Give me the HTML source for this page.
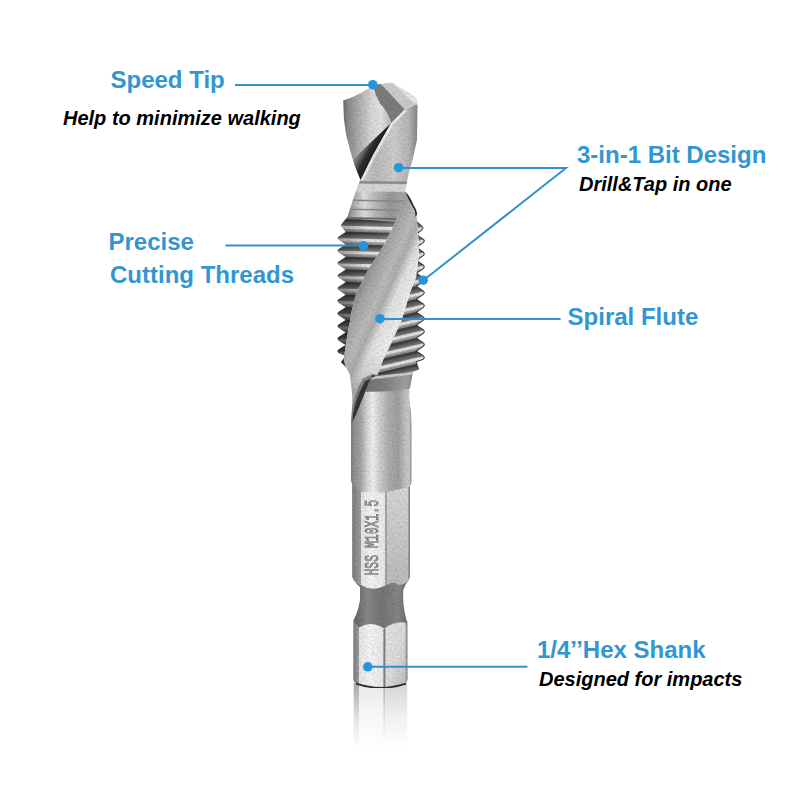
<!DOCTYPE html>
<html lang="en">
<head>
<meta charset="utf-8">
<title>3-in-1 Drill Tap Bit</title>
<style>
html,body{margin:0;padding:0;background:#fff;}
body{width:800px;height:800px;position:relative;overflow:hidden;font-family:"Liberation Sans",Arial,sans-serif;}
</style>
</head>
<body>
<svg width="800" height="800" viewBox="0 0 800 800" style="position:absolute;left:0;top:0">
<defs>
 <linearGradient id="gShank" x1="0" x2="1" y1="0" y2="0">
  <stop offset="0" stop-color="#7c7c7c"/>
  <stop offset="0.05" stop-color="#939393"/>
  <stop offset="0.16" stop-color="#a6a6a6"/>
  <stop offset="0.27" stop-color="#dadada"/>
  <stop offset="0.36" stop-color="#f4f4f4"/>
  <stop offset="0.47" stop-color="#d4d4d4"/>
  <stop offset="0.62" stop-color="#b0b0b0"/>
  <stop offset="0.78" stop-color="#a2a2a2"/>
  <stop offset="0.90" stop-color="#c4c4c4"/>
  <stop offset="0.96" stop-color="#cdcdcd"/>
  <stop offset="1" stop-color="#909090"/>
 </linearGradient>
 <linearGradient id="gGroove" x1="0" x2="1" y1="0" y2="0">
  <stop offset="0" stop-color="#626262"/>
  <stop offset="0.25" stop-color="#8a8a8a"/>
  <stop offset="0.5" stop-color="#767676"/>
  <stop offset="0.8" stop-color="#888888"/>
  <stop offset="1" stop-color="#666666"/>
 </linearGradient>
 <linearGradient id="gBand" x1="0" x2="1" y1="0" y2="0">
  <stop offset="0" stop-color="#707070"/><stop offset="0.5" stop-color="#868686"/><stop offset="0.85" stop-color="#a4a4a4"/><stop offset="1" stop-color="#8a8a8a"/>
 </linearGradient>
 <linearGradient id="gBladeSh" gradientUnits="userSpaceOnUse" x1="376" y1="151" x2="361" y2="143">
  <stop offset="0" stop-color="#1c1c1c" stop-opacity="1"/>
  <stop offset="0.4" stop-color="#2a2a2a" stop-opacity="0.96"/>
  <stop offset="0.8" stop-color="#555" stop-opacity="0.5"/>
  <stop offset="1" stop-color="#777" stop-opacity="0"/>
 </linearGradient>
 <clipPath id="cBlade"><path d="M343.2,100.5 Q357,96 369.5,87.7 L372.8,85 Q375,95 380,103.5 Q388,112 391.2,123 L386,132 L372.5,156 L360.5,180 L354.5,165 L350,150 L346.2,135 L344,120 Z"/></clipPath>
 <linearGradient id="gTail" gradientUnits="userSpaceOnUse" x1="0" y1="352" x2="0" y2="420">
  <stop offset="0" stop-color="#a0a0a0" stop-opacity="0"/><stop offset="0.35" stop-color="#a0a0a0" stop-opacity="0.3"/><stop offset="0.6" stop-color="#989898" stop-opacity="0.8"/><stop offset="1" stop-color="#8c8c8c" stop-opacity="0.95"/>
 </linearGradient>
 <linearGradient id="gThreadShadeV" gradientUnits="userSpaceOnUse" x1="0" y1="270" x2="0" y2="360">
  <stop offset="0" stop-color="#222" stop-opacity="0"/><stop offset="0.5" stop-color="#222" stop-opacity="0.45"/><stop offset="1" stop-color="#222" stop-opacity="0.7"/>
 </linearGradient>
 <linearGradient id="gFaceL" x1="0" x2="1" y1="0" y2="0">
  <stop offset="0" stop-color="#7e7e7e"/><stop offset="1" stop-color="#a2a2a2"/>
 </linearGradient>
 <linearGradient id="gFaceM" x1="0" x2="1" y1="0" y2="0">
  <stop offset="0" stop-color="#e8e8e8"/><stop offset="0.4" stop-color="#f8f8f8"/><stop offset="1" stop-color="#ececec"/>
 </linearGradient>
 <linearGradient id="gFaceR" x1="0" x2="0" y1="0" y2="1">
  <stop offset="0" stop-color="#dadada"/><stop offset="1" stop-color="#bebebe"/>
 </linearGradient>
 <linearGradient id="gFaceR2" x1="0" x2="1" y1="0" y2="1">
  <stop offset="0" stop-color="#e8e8e8"/><stop offset="0.55" stop-color="#dedede"/><stop offset="1" stop-color="#bebebe"/>
 </linearGradient>
 <linearGradient id="gFlute" gradientUnits="userSpaceOnUse" x1="358" y1="283" x2="414" y2="308">
  <stop offset="0" stop-color="#888888"/>
  <stop offset="0.18" stop-color="#a8a8a8"/>
  <stop offset="0.38" stop-color="#bebebe"/>
  <stop offset="0.50" stop-color="#b0b0b0"/>
  <stop offset="0.64" stop-color="#e4e4e4"/>
  <stop offset="0.86" stop-color="#f2f2f2"/>
  <stop offset="1" stop-color="#c4c4c4"/>
 </linearGradient>
 <linearGradient id="gThread" x1="0" x2="0" y1="0" y2="1">
  <stop offset="0" stop-color="#454545"/>
  <stop offset="0.08" stop-color="#5c5c5c"/>
  <stop offset="0.34" stop-color="#7e7e7e"/>
  <stop offset="0.42" stop-color="#f4f4f4"/>
  <stop offset="0.58" stop-color="#f4f4f4"/>
  <stop offset="0.66" stop-color="#b0b0b0"/>
  <stop offset="0.82" stop-color="#909090"/>
  <stop offset="0.90" stop-color="#353535"/>
  <stop offset="1" stop-color="#454545"/>
 </linearGradient>
 <pattern id="pThreadL" x="0" y="220.8" width="100" height="12.57" patternUnits="userSpaceOnUse" patternTransform="rotate(1.5 337.4 288)">
  <rect width="100" height="12.57" fill="url(#gThread)"/>
 </pattern>
 <pattern id="pThreadR" x="0" y="221.69" width="100" height="12.62" patternUnits="userSpaceOnUse" patternTransform="rotate(-13 424.4 228)">
  <rect width="100" height="12.62" fill="url(#gThread)"/>
 </pattern>
 <linearGradient id="gThreadShadeL" x1="0" x2="1" y1="0" y2="0">
  <stop offset="0" stop-color="#000" stop-opacity="0.35"/>
  <stop offset="0.5" stop-color="#000" stop-opacity="0.05"/>
  <stop offset="1" stop-color="#fff" stop-opacity="0.15"/>
 </linearGradient>
 <linearGradient id="gBlade" x1="0" x2="1" y1="0" y2="0">
  <stop offset="0" stop-color="#6e6e6e"/>
  <stop offset="0.1" stop-color="#8c8c8c"/>
  <stop offset="0.35" stop-color="#b4b4b4"/>
  <stop offset="0.6" stop-color="#dcdcdc"/>
  <stop offset="0.8" stop-color="#e6e6e6"/>
  <stop offset="1" stop-color="#bcbcbc"/>
 </linearGradient>
 <linearGradient id="gLand" x1="0" x2="1" y1="0" y2="0">
  <stop offset="0" stop-color="#dcdcdc"/>
  <stop offset="0.3" stop-color="#bcbcbc"/>
  <stop offset="0.62" stop-color="#d0d0d0"/>
  <stop offset="0.86" stop-color="#b8b8b8"/>
  <stop offset="1" stop-color="#868686"/>
 </linearGradient>
 <linearGradient id="gTaper" x1="0" x2="1" y1="0" y2="0">
  <stop offset="0" stop-color="#7e7e7e"/>
  <stop offset="0.12" stop-color="#aeaeae"/>
  <stop offset="0.3" stop-color="#e2e2e2"/>
  <stop offset="0.5" stop-color="#bababa"/>
  <stop offset="0.75" stop-color="#9a9a9a"/>
  <stop offset="1" stop-color="#acacac"/>
 </linearGradient>
 <filter id="fGrain" x="0" y="0" width="1" height="1" color-interpolation-filters="sRGB">
  <feTurbulence type="fractalNoise" baseFrequency="0.4 0.55" numOctaves="2" seed="7" result="n"/>
  <feColorMatrix in="n" type="matrix" values="0 0 0 0 0  0 0 0 0 0  0 0 0 0 0  0.22 0 0 0 -0.07" result="a"/>
  <feComposite in="a" in2="SourceGraphic" operator="in" result="dark"/>
  <feColorMatrix in="n" type="matrix" values="0 0 0 0 1  0 0 0 0 1  0 0 0 0 1  0 -0.22 0 0 0.08" result="b"/>
  <feComposite in="b" in2="SourceGraphic" operator="in" result="light"/>
  <feMerge><feMergeNode in="SourceGraphic"/><feMergeNode in="dark"/><feMergeNode in="light"/></feMerge>
 </filter>
 <linearGradient id="gFade" gradientUnits="userSpaceOnUse" x1="0" x2="0" y1="687" y2="748">
  <stop offset="0" stop-color="#fff" stop-opacity="0.18"/>
  <stop offset="0.5" stop-color="#fff" stop-opacity="0.7"/>
  <stop offset="1" stop-color="#fff" stop-opacity="1"/>
 </linearGradient>
</defs>

<g>
<rect x="353.6" y="683" width="5.4" height="65" fill="#9c9c9c"/>
<rect x="359" y="683" width="25" height="65" fill="#e6e6e6"/>
<rect x="383.4" y="683" width="2" height="65" fill="#a0a0a0"/>
<rect x="385.4" y="683" width="21.8" height="65" fill="#cfcfcf"/>
<rect x="350" y="682.5" width="60" height="66.5" fill="url(#gFade)"/>
</g>
<g filter="url(#fGrain)">
<path d="M353.4,621 L359,627 L384.3,628 L407.4,621 L407.4,680 Q407,683 404.5,684 Q381,691.5 356.5,684 Q353.8,683 353.4,680 Z" fill="#ddd"/>
<path d="M353.4,620 L359,627 L359,684.6 Q354,683.5 353.4,680 Z" fill="url(#gFaceL)"/>
<path d="M359,627 Q371,619.5 384.3,628 L384.3,687.3 Q370,687.5 359,684.6 Z" fill="url(#gFaceM)"/>
<path d="M384.3,628 Q396,619.5 407.4,622.5 L407.4,680 Q407,683 404.5,684 Q395,686.8 384.3,687.3 Z" fill="url(#gFaceR2)"/>
<path d="M405.6,623 L407.4,622.5 L407.4,680 L405.6,683 Z" fill="#9a9a9a"/>
<path d="M384.4,628.5 L384.4,687" stroke="#808080" stroke-width="2"/>
<path d="M356,683.6 Q381,692 405.9,683.6" stroke="#2e2e2e" stroke-width="1.7" fill="none"/>
<path d="M353,579 Q356,584 360,587 Q360,594 360,600 Q358,612 353.4,620.5 L359,627.5 Q371,620 384.3,628.5 Q396,620 407.4,623 Q403.5,610 403.2,600 L403.2,590 Q405,584 409.5,579 Z" fill="url(#gGroove)"/>
<path d="M352.2,485 L361,491.5 L386,492 L410,486 L410,577 Q408,583 400,585 Q393,580 386,585 Q373,592 361,585 Q355,583 352.2,577 Z" fill="#ddd"/>
<path d="M352.2,483 L361,491.5 L361,585 Q355,583 352.2,577 Z" fill="url(#gFaceL)"/>
<path d="M361,491.5 L386,492 L386,585 Q373,592 361,585 Z" fill="url(#gFaceM)"/>
<path d="M386,492 L410,485.5 L410,577 Q408,583 400,585 Q393,580 386,585 Z" fill="url(#gFaceR)"/>
<path d="M385.9,492 L385.9,585" stroke="#9c9c9c" stroke-width="1.6"/>
<path d="M408.3,486 L410,485.5 L410,577 L408.3,580 Z" fill="#909090"/>
<text transform="translate(378.3,575.5) rotate(-90) scale(0.573,0.97)" font-family="'Liberation Mono', monospace" font-size="20" fill="#cfcfcf" stroke="#6e6e6e" stroke-width="0.9">HSS M10X1.5</text>
<path d="M354,385 L410.5,380 Q408.5,392 409.5,400 Q411.5,412 411.5,425 L411.5,481 Q411,485 410,486.5 L386,492.5 L361,492 L352.2,484 L351,481 L351,420 Z" fill="url(#gShank)"/>
<path d="M369,377.5 L413.2,371 L410,388.5 Q390,392.5 362,391.5 Z" fill="url(#gBand)"/>
<path d="M372,376.5 L413.2,371.5 L412.6,374.5 L371,379.5 Z" fill="#d0d0d0"/>
<path d="M347,217.5 L341.7,224.1 L340.8,225.6 L341.9,227.2 L345.8,231.9 L338.3,236.7 L337.4,238.2 L338.5,239.8 L345.8,244.5 L338.3,249.2 L337.4,250.7 L338.5,252.4 L345.8,257.0 L338.3,261.8 L337.4,263.3 L338.5,264.9 L345.8,269.6 L338.3,274.4 L337.4,275.9 L338.5,277.5 L345.8,282.2 L338.3,286.9 L337.4,288.4 L338.5,290.1 L345.8,294.7 L338.3,299.5 L337.4,301.0 L338.5,302.7 L345.8,307.3 L338.3,312.1 L337.4,313.6 L338.5,315.2 L345.8,319.9 L338.3,324.7 L337.4,326.2 L338.5,327.8 L345.8,332.4 L338.3,337.2 L337.4,338.7 L338.5,340.4 L345.8,345.0 L338.3,349.8 L337.4,351.3 L338.5,352.9 L345.8,355.7 L342.1,360.5 L341.2,362.0 L342.3,363.6 L346.2,367.5 L343.7,360 L345.6,346 L347.5,334 L350,321 L352,309 L356,294 L368,270 L384.5,244 L398,217 Z" fill="url(#pThreadL)"/>
<path d="M347,217.5 L341.7,224.1 L340.8,225.6 L341.9,227.2 L345.8,231.9 L338.3,236.7 L337.4,238.2 L338.5,239.8 L345.8,244.5 L338.3,249.2 L337.4,250.7 L338.5,252.4 L345.8,257.0 L338.3,261.8 L337.4,263.3 L338.5,264.9 L345.8,269.6 L338.3,274.4 L337.4,275.9 L338.5,277.5 L345.8,282.2 L338.3,286.9 L337.4,288.4 L338.5,290.1 L345.8,294.7 L338.3,299.5 L337.4,301.0 L338.5,302.7 L345.8,307.3 L338.3,312.1 L337.4,313.6 L338.5,315.2 L345.8,319.9 L338.3,324.7 L337.4,326.2 L338.5,327.8 L345.8,332.4 L338.3,337.2 L337.4,338.7 L338.5,340.4 L345.8,345.0 L338.3,349.8 L337.4,351.3 L338.5,352.9 L345.8,355.7 L342.1,360.5 L341.2,362.0 L342.3,363.6 L346.2,367.5 L343.7,360 L345.6,346 L347.5,334 L350,321 L352,309 L356,294 L368,270 L384.5,244 L398,217 Z" fill="url(#gThreadShadeL)"/>
<path d="M347,217.5 L341.7,224.1 L340.8,225.6 L341.9,227.2 L345.8,231.9 L338.3,236.7 L337.4,238.2 L338.5,239.8 L345.8,244.5 L338.3,249.2 L337.4,250.7 L338.5,252.4 L345.8,257.0 L338.3,261.8 L337.4,263.3 L338.5,264.9 L345.8,269.6 L338.3,274.4 L337.4,275.9 L338.5,277.5 L345.8,282.2 L338.3,286.9 L337.4,288.4 L338.5,290.1 L345.8,294.7 L338.3,299.5 L337.4,301.0 L338.5,302.7 L345.8,307.3 L338.3,312.1 L337.4,313.6 L338.5,315.2 L345.8,319.9 L338.3,324.7 L337.4,326.2 L338.5,327.8 L345.8,332.4 L338.3,337.2 L337.4,338.7 L338.5,340.4 L345.8,345.0 L338.3,349.8 L337.4,351.3 L338.5,352.9 L345.8,355.7 L342.1,360.5 L341.2,362.0 L342.3,363.6 L346.2,367.5 L343.7,360 L345.6,346 L347.5,334 L350,321 L352,309 L356,294 L368,270 L384.5,244 L398,217 Z" fill="url(#gThreadShadeV)"/>
<path d="M416,211 L416.3,221.5 L422.1,226.4 L423.0,228.0 L421.9,229.7 L416.3,234.5 L423.5,239.4 L424.4,240.9 L423.3,242.6 L416.3,247.4 L423.5,252.3 L424.4,253.9 L423.3,255.6 L416.3,260.4 L423.5,265.3 L424.4,266.9 L423.3,268.5 L416.3,273.3 L423.5,278.2 L424.4,279.8 L423.3,281.5 L416.3,286.3 L423.5,291.2 L424.4,292.8 L423.3,294.4 L416.3,299.2 L423.5,304.1 L424.4,305.7 L423.3,307.4 L416.3,312.2 L423.5,317.1 L424.4,318.6 L423.3,320.3 L416.3,325.1 L423.5,330.0 L424.4,331.6 L423.3,333.3 L416.3,338.1 L423.5,343.0 L424.4,344.6 L423.3,346.2 L416.3,351.0 L423.5,355.9 L424.4,357.5 L423.3,359.2 L416.3,361.8 L417.6,366.7 L418.5,368.3 L417.4,370.0 L413,372 L377,376 L383,360 L389,348 L395,334.5 L401,322.5 L405.5,307.5 L410,292.5 L416,277.5 L419,255 L418,230 Z" fill="url(#pThreadR)"/>
<path d="M416,211 L416.3,221.5 L422.1,226.4 L423.0,228.0 L421.9,229.7 L416.3,234.5 L423.5,239.4 L424.4,240.9 L423.3,242.6 L416.3,247.4 L423.5,252.3 L424.4,253.9 L423.3,255.6 L416.3,260.4 L423.5,265.3 L424.4,266.9 L423.3,268.5 L416.3,273.3 L423.5,278.2 L424.4,279.8 L423.3,281.5 L416.3,286.3 L423.5,291.2 L424.4,292.8 L423.3,294.4 L416.3,299.2 L423.5,304.1 L424.4,305.7 L423.3,307.4 L416.3,312.2 L423.5,317.1 L424.4,318.6 L423.3,320.3 L416.3,325.1 L423.5,330.0 L424.4,331.6 L423.3,333.3 L416.3,338.1 L423.5,343.0 L424.4,344.6 L423.3,346.2 L416.3,351.0 L423.5,355.9 L424.4,357.5 L423.3,359.2 L416.3,361.8 L417.6,366.7 L418.5,368.3 L417.4,370.0 L413,372 L377,376 L383,360 L389,348 L395,334.5 L401,322.5 L405.5,307.5 L410,292.5 L416,277.5 L419,255 L418,230 Z" fill="#000" fill-opacity="0.06"/>
<polyline points="416.3,221.5 422.1,226.4 423.0,228.0 421.9,229.7 416.3,234.5 423.5,239.4 424.4,240.9 423.3,242.6 416.3,247.4 423.5,252.3 424.4,253.9 423.3,255.6 416.3,260.4 423.5,265.3 424.4,266.9 423.3,268.5 416.3,273.3 423.5,278.2 424.4,279.8 423.3,281.5 416.3,286.3 423.5,291.2 424.4,292.8 423.3,294.4 416.3,299.2 423.5,304.1 424.4,305.7 423.3,307.4 416.3,312.2 423.5,317.1 424.4,318.6 423.3,320.3 416.3,325.1 423.5,330.0 424.4,331.6 423.3,333.3 416.3,338.1 423.5,343.0 424.4,344.6 423.3,346.2 416.3,351.0 423.5,355.9 424.4,357.5 423.3,359.2 416.3,361.8 417.6,366.7 418.5,368.3 417.4,370.0" fill="none" stroke="#262626" stroke-opacity="0.8" stroke-width="1.1" stroke-linejoin="round"/>
<path d="M356,191 L405,191.5 L402.6,204 L396.5,222 L347,218 Z" fill="url(#gTaper)"/>
<path d="M353,199.5 L404,200.5 L403.5,202 L352.6,201 Z" fill="#8d8d8d"/>
<path d="M350,208.5 L400,209.5 L399.5,211 L349.6,210 Z" fill="#8d8d8d"/>
<path d="M347,217 L396,218 L395.5,220 L346.6,219 Z" fill="#6f6f6f"/>
<path d="M405,191.5 Q408,196 410.5,200 L415,210 L416,211 L418,230 L419,255 L416,277.5 L410,292.5 L405.5,307.5 L401,322.5 L395,334.5 L389,348 L383,360 L377,376 L372.5,374.5 L365.5,391 L356,415 L352.2,423 L353.5,412 L352,392.5 L350,375 L346.2,367.5 L343.7,360 L345.6,346 L347.5,334 L350,321 L352,309 L356,294 L368,270 L384.5,244 L398,217 L403,200 Z" fill="url(#gFlute)"/>
<path d="M343.9,352 L343.7,360 L346.2,367.5 L350,375 L352,392.5 L353.5,412 L352.2,423 L356,415 L365.5,391 L372.5,374.5 L377,376 L383,360 L386.5,352 Z" fill="url(#gTail)"/>
<path d="M378,375 L377,376 L372.5,374.5 L365.5,391 L356,415 L352.2,423 L353,413 L356,402 L360,391 L365,381 Z" fill="#363636"/>
<path d="M378,375 L365,381 L360,391 L356,402 L353,413 L353.2,407 L355,397 L358.5,387 L363,378.5 L372,374 Z" fill="#5a5a5a" fill-opacity="0.6"/>
<path d="M345.5,362 L350,380 L351,402 Q358,398 366,384 L372.5,374.5 L375.5,375 L384.5,363 Q365,372 355,388 Z" fill="#c9c9c9" fill-opacity="0"/>
<path d="M405,191.5 Q408.5,194.5 411,199.5 L413.5,205 L416,209.5 L417.2,214 L415.5,217 L415,211 L412,205.5 L409,200 Z" fill="#2a2a2a"/>
<path d="M404.5,109.5 L417.5,104 L417,140 L412.5,160 L409,172 L405,191.5 L356,191 L360.5,180 L372.5,156 L386,132 L391.2,123 Z" fill="url(#gLand)"/>
<path d="M404.5,109.5 L391.2,123 L386,132 L372.5,156 L360.5,180 L363.3,180 L375,157 L388.3,133.5 L393.5,124.5 L407,110.5 Z" fill="#f6f6f6" fill-opacity="0.85"/>
<path d="M359.7,181 L407.2,181.5 L406.7,184 L358.8,183.5 Z" fill="#909090"/>
<path d="M358.5,184 L406.7,184.5 L405,191.5 L356,191 Z" fill="#d9d9d9"/>
<path d="M343.2,100.5 Q357,96 369.5,87.7 L372.8,85 Q375,95 380,103.5 Q388,112 391.2,123 L386,132 L372.5,156 L360.5,180 L354.5,165 L350,150 L346.2,135 L344,120 Z" fill="url(#gBlade)"/>
<path d="M391.2,123 L386,132 L372.5,156 L360.5,181 L344,168 Z" fill="url(#gBladeSh)" clip-path="url(#cBlade)"/>
<path d="M372.8,84.7 L381,84 L406,108 L404.5,109.5 L391.2,123 Q388,112 380,103.5 Q375,95 372.8,84.7 Z" fill="#7e7e7e"/>
<path d="M381,84 L392,82.5 L416,97.5 L417.5,104 L404.5,109.5 Z" fill="#cfcfcf"/>
<path d="M392,82.5 L416,97.5 L417.5,104 L414,103 Z" fill="#ececec"/>
</g>
<polyline points="235,84.9 372.8,84.9" fill="none" stroke="#3391cb" stroke-width="2"/>
<polyline points="225.5,245.6 363.5,245.6" fill="none" stroke="#3391cb" stroke-width="2"/>
<polyline points="399,168 566,168 423.5,280.3" fill="none" stroke="#3391cb" stroke-width="2"/>
<polyline points="380,318.9 560.6,318.9" fill="none" stroke="#3391cb" stroke-width="2"/>
<polyline points="367.8,666.8 527.5,666.8" fill="none" stroke="#3391cb" stroke-width="2"/>
<circle cx="372.8" cy="84.7" r="4.8" fill="#2496dd"/>
<circle cx="363.5" cy="245.8" r="4.8" fill="#2496dd"/>
<circle cx="398.7" cy="167.7" r="4.8" fill="#2496dd"/>
<circle cx="423.2" cy="280.2" r="4.8" fill="#2496dd"/>
<circle cx="380" cy="318.7" r="4.8" fill="#2496dd"/>
<circle cx="367.8" cy="666.8" r="4.8" fill="#2496dd"/>
<text x="110.5" y="87.6" font-family="'Liberation Sans', Arial, sans-serif" font-weight="bold" font-size="24" fill="#3196d1">Speed Tip</text>
<text x="63" y="124.5" font-family="'Liberation Sans', Arial, sans-serif" font-weight="bold" font-style="italic" font-size="20" fill="#000">Help to minimize walking</text>
<text x="108.5" y="249.5" font-family="'Liberation Sans', Arial, sans-serif" font-weight="bold" font-size="24" fill="#3196d1">Precise</text>
<text x="110" y="282.5" font-family="'Liberation Sans', Arial, sans-serif" font-weight="bold" font-size="24" fill="#3196d1">Cutting Threads</text>
<text x="577" y="162.6" font-family="'Liberation Sans', Arial, sans-serif" font-weight="bold" font-size="24" fill="#3196d1">3-in-1 Bit Design</text>
<text x="579" y="190.8" font-family="'Liberation Sans', Arial, sans-serif" font-weight="bold" font-style="italic" font-size="20" fill="#000">Drill&amp;Tap in one</text>
<text x="567.6" y="325" font-family="'Liberation Sans', Arial, sans-serif" font-weight="bold" font-size="24" fill="#3196d1">Spiral Flute</text>
<text x="537" y="657.6" font-family="'Liberation Sans', Arial, sans-serif" font-weight="bold" font-size="24" fill="#3196d1">1/4’’Hex Shank</text>
<text x="539" y="686.4" font-family="'Liberation Sans', Arial, sans-serif" font-weight="bold" font-style="italic" font-size="20" fill="#000">Designed for impacts</text>
</svg>
</body>
</html>
